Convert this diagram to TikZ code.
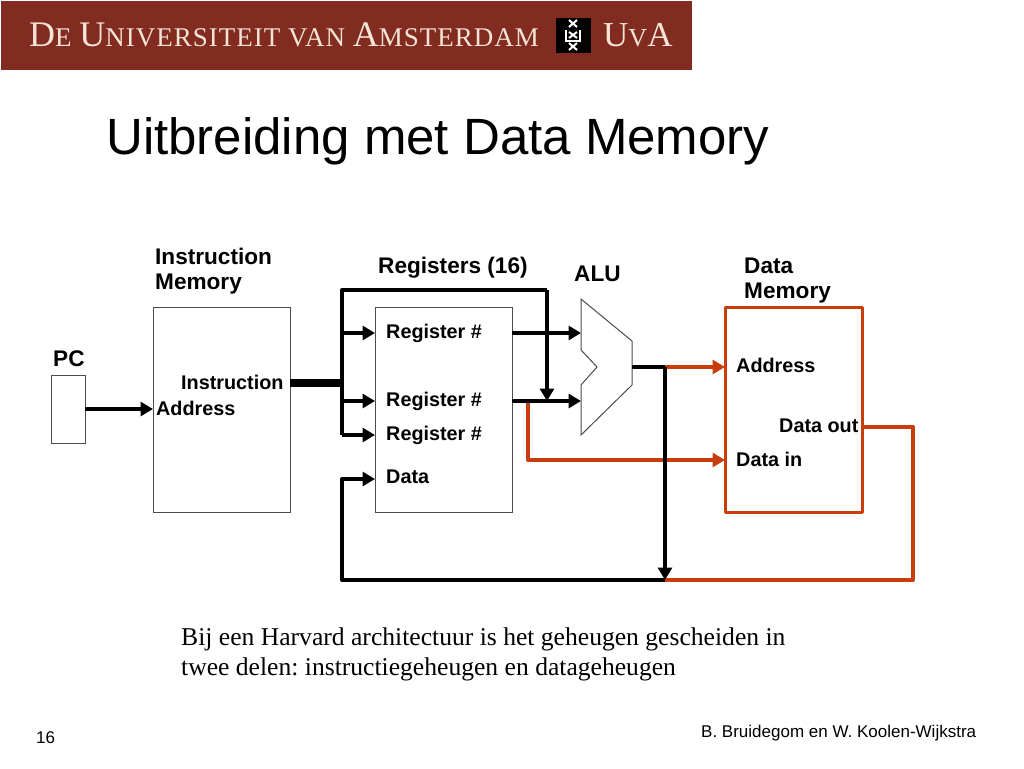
\documentclass[tikz,border=0pt]{standalone}
\usepackage{fontspec}
\setmainfont{Liberation Sans}
\newfontfamily\serifface{Liberation Serif}
\newfontfamily\spacedserif[LetterSpace=3.7]{Liberation Serif}
\usetikzlibrary{arrows.meta}
\definecolor{uvared}{HTML}{822B20}
\definecolor{uvacream}{HTML}{F3E4D6}
\definecolor{wireorange}{HTML}{C93C0C}
\newcommand{\fsz}[1]{\fontsize{#1}{#1}\selectfont}
\newcommand{\cp}[2]{{\fsz{#1}#2}}
\frenchspacing
\tikzset{
  x=1pt,y=-1pt,
  boxbase/.style={minimum width=137pt,minimum height=205pt,inner sep=0pt,outer sep=0pt,anchor=north west},
  boxthin/.style={boxbase,draw=black!70,line width=1pt,fill=white},
  boxred/.style={boxbase,draw=wireorange,line width=3pt,line join=round,fill=white},
  wire/.style={line width=4pt,line join=round,line cap=butt},
  blackwire/.style={wire,draw=black},
  redwire/.style={wire,draw=wireorange},
  tip/.style={-{Triangle[length=12.5pt,width=14pt]}},
  heading/.style={inner sep=0pt,anchor=base west,font=\fsz{22.6}\bfseries,align=left},
  port/.style={inner sep=0pt,anchor=base west,font=\fsz{19.8}\bfseries},
  banner/.style={inner sep=0pt,anchor=base west,text=uvacream},
}
\begin{document}
\begin{tikzpicture}
\useasboundingbox (0,0) rectangle (1024,768);
\fill[white] (0,0) rectangle (1024,768);
% banner
\node[fill=uvared,minimum width=691pt,minimum height=68pt,inner sep=0pt,outer sep=0pt,anchor=north west] (band) at (1,1.5) {};
\node[banner,font=\spacedserif\fsz{27}] (bannertext) at (29,46) {\cp{36}{D}\cp{27}{E} \cp{36}{U}\cp{27}{NIVERSITEIT VAN} \cp{36}{A}\cp{27}{MSTERDAM}};
\node[fill=black,minimum width=35pt,minimum height=35pt,inner sep=0pt,outer sep=0pt,anchor=north west] (shield) at (556,18) {};
\draw[white,line width=2pt] (569,20) -- (577,27) (577,20) -- (569,27)
  (569,32) -- (577,38) (577,32) -- (569,38)
  (569,43) -- (577,50) (577,43) -- (569,50);
\draw[white,line width=2.4pt] (566,30) -- (566,41) -- (580,41) -- (580,30);
\node[banner,font=\serifface\fsz{27}] (uvatext) at (603,46) {\cp{35}{U}\cp{26}{V}\cp{35}{A}};
% title
\node[inner sep=0pt,anchor=base west,font=\fsz{51}] (title) at (106,154) {Uitbreiding met Data Memory};
% boxes
\node[boxthin] (imem) at (153,307) {};
\node[boxthin] (regs) at (375,307) {};
\node[boxred] (dmem) at (725,307) {};
\node[boxthin,minimum width=34pt,minimum height=68pt] (pc) at (51,375) {};
\draw[draw=black!70,line width=1pt,fill=white,line join=miter] (581,299) -- (632,341) -- (632,385) -- (581,435) -- (581,385) -- (597,367) -- (581,350) -- cycle;
\coordinate (aluA) at (581,333);
\coordinate (aluB) at (581,401);
\coordinate (aluOut) at (632,367);
% junctions
\coordinate (imBus) at (290,383);
\coordinate (busJ) at (342,383);
\coordinate (busTop) at (342,290);
\coordinate (busBot) at (342,435);
\coordinate (busCorner) at (547,290);
\coordinate (busEnd) at (547,401);
\coordinate (reg1in) at (375,333);
\coordinate (reg2in) at (375,401);
\coordinate (reg3in) at (375,435);
\coordinate (regDin) at (375,479);
\coordinate (reg1out) at (512,333);
\coordinate (reg2out) at (512,401);
\coordinate (aluJ) at (665,367);
\coordinate (backJ) at (665,580);
\coordinate (backL) at (342,580);
\coordinate (backU) at (342,479);
\coordinate (rJ) at (528,401);
\coordinate (rB) at (528,460);
\coordinate (dmA) at (725,367);
\coordinate (dmD) at (725,460);
\coordinate (dmOut) at (862,427);
\coordinate (rR) at (913,427);
\coordinate (rC) at (913,580);
\coordinate (pcOut) at (85,409);
\coordinate (imIn) at (153,409);
% orange connectors
\draw[redwire,tip] (aluJ) -- (dmA);
\draw[redwire,tip] (rJ) -- (rB) -- (dmD);
\draw[redwire] (dmOut) -- (rR) -- (rC) -- (backJ);
% black connectors
\draw[blackwire,line width=8pt] (imBus) -- (busJ);
\draw[blackwire] (busBot) -- (busTop) -- (busCorner);
\draw[blackwire,tip] (busCorner) -- (busEnd);
\draw[blackwire,tip] (busJ |- reg1in) -- (reg1in);
\draw[blackwire,tip] (busJ |- reg2in) -- (reg2in);
\draw[blackwire,tip] (busBot) -- (reg3in);
\draw[blackwire,tip] (reg1out) -- (aluA);
\draw[blackwire,tip] (reg2out) -- (aluB);
\draw[blackwire] (aluOut) -- (aluJ);
\draw[blackwire,tip] (aluJ) -- (backJ);
\draw[blackwire,tip] (backJ) -- (backL) -- (backU) -- (regDin);
\draw[blackwire,tip] (pcOut) -- (imIn);
% headings
\node[heading] (h1) at (155,264) {Instruction};
\node[heading] (h2) at (155,289) {Memory};
\node[heading] (h3) at (378,273) {Registers (16)};
\node[heading] (h4) at (574,281) {ALU};
\node[heading] (h5) at (744,273) {Data};
\node[heading] (h6) at (744,298) {Memory};
\node[heading] (h7) at (53,366) {PC};
% ports
\node[port] (p1) at (181,389.7) {Instruction};
\node[port] (p2) at (156,415.7) {Address};
\node[port] (p3) at (386,338.7) {Register \#};
\node[port] (p4) at (386,406.7) {Register \#};
\node[port] (p5) at (386,440.7) {Register \#};
\node[port] (p6) at (386,483.7) {Data};
\node[port] (p7) at (736,372.7) {Address};
\node[port] (p8) at (779,432.7) {Data out};
\node[port] (p9) at (736,466.7) {Data in};
% caption
\node[inner sep=0pt,anchor=base west,font=\serifface\fsz{25.6}] (c1) at (181,645) {Bij een Harvard architectuur is het geheugen gescheiden in};
\node[inner sep=0pt,anchor=base west,font=\serifface\fsz{25.6}] (c2) at (181,675) {twee delen: instructiegeheugen en datageheugen};
% footer
\node[inner sep=0pt,anchor=base west,font=\fsz{17}] (f1) at (36,743) {16};
\node[inner sep=0pt,anchor=base west,font=\fsz{17}] (f2) at (701,737) {B. Bruidegom en W. Koolen-Wijkstra};
\end{tikzpicture}
\end{document}
